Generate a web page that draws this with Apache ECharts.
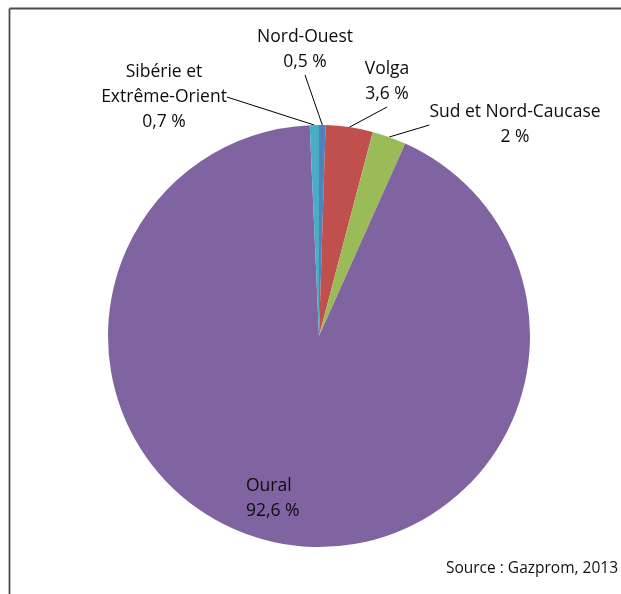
<!DOCTYPE html>
<html>
<head>
<meta charset="utf-8">
<script src="https://cdn.jsdelivr.net/npm/echarts@6/dist/echarts.min.js"></script>
<style>
html,body{margin:0;padding:0;background:#fff;}
#chart{width:621px;height:594px;}
</style>
</head>
<body>
<div id="chart"></div>
<script>
// Data (clockwise from 12 o'clock)
const regions = ['Nord-Ouest', 'Volga', 'Sud et Nord-Caucase', 'Oural', 'Sibérie et Extrême-Orient'];
const labelTexts = ['Nord-Ouest', 'Volga', 'Sud et Nord-Caucase', 'Oural', 'Sibérie et\nExtrême-Orient'];
const shares = [0.5, 3.6, 2.6, 92.6, 0.7];
// percentages as printed on the chart
const printedShares = ['0,5 %', '3,6 %', '2 %', '92,6 %', '0,7 %'];
const sourceText = 'Source : Gazprom, 2013';

// Styling / layout (not data)
const colors = ['#4F81BD', '#C0504D', '#9BBB59', '#8064A2', '#4BACC6'];
const labelAnchors = [[305, 50, 'center'], [387, 82, 'center'], [515, 125, 'center'], [246, 499, 'left'], [164, 97, 'center']];

const chart = echarts.init(document.getElementById('chart'), null, {renderer: 'canvas'});
chart.setOption({
  backgroundColor: '#fff',
  animation: false,
  graphic: [
    {type: 'line', shape: {x1: 9.5, y1: 8.5, x2: 621, y2: 8.5}, style: {stroke: '#4d4d4d', lineWidth: 1.8}},
    {type: 'line', shape: {x1: 9.5, y1: 8.5, x2: 9.5, y2: 594}, style: {stroke: '#4d4d4d', lineWidth: 1.8}},
    {type: 'text', right: 3, top: 561, style: {text: sourceText, font: '15.5px "Open Sans"', fill: '#111'}}
  ],
  series: [{
    type: 'pie',
    center: [319, 336],
    radius: 211,
    startAngle: 90,
    clockwise: true,
    avoidLabelOverlap: false,
    itemStyle: {borderWidth: 0},
    label: {
      show: true,
      position: 'outside',
      fontFamily: 'Open Sans',
      fontSize: 17.5,
      lineHeight: 25,
      color: '#0d0d0d',
      align: 'center',
      formatter: p => labelTexts[p.dataIndex] + '\n' + printedShares[p.dataIndex]
    },
    labelLine: {show: true, length: 10, length2: 0, lineStyle: {color: '#000', width: 1}},
    labelLayout: p => ({
      x: labelAnchors[p.dataIndex][0],
      y: labelAnchors[p.dataIndex][1],
      align: labelAnchors[p.dataIndex][2],
      verticalAlign: 'middle'
    }),
    data: regions.map((r, i) => {
      const d = {name: r, value: shares[i], itemStyle: {color: colors[i]}};
      if (r === 'Oural') {
        d.label = {position: 'inside', align: 'left'};
        d.labelLine = {show: false};
      }
      return d;
    })
  }]
});
</script>
</body>
</html>
